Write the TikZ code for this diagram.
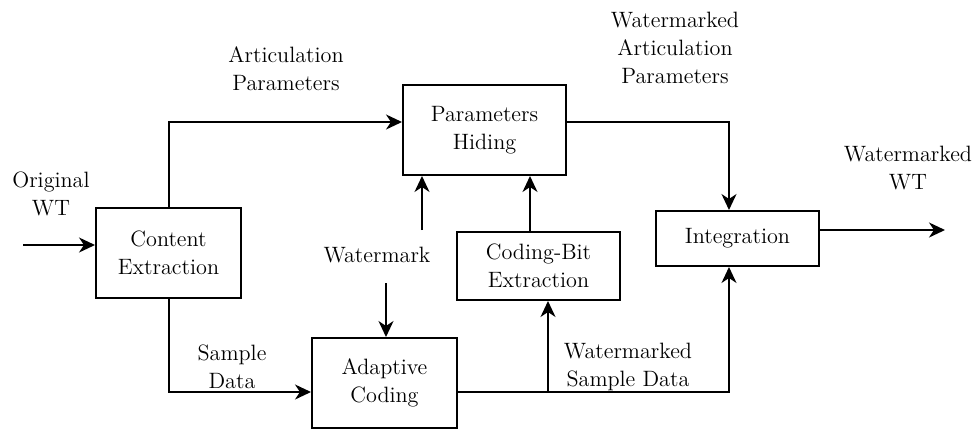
\documentclass[tikz,border=0pt]{standalone}
\usetikzlibrary{arrows.meta}
\begin{document}
\begin{tikzpicture}[x=0.5pt,y=-0.5pt,
  every node/.style={font=\rmfamily\fontsize{11.1}{14}\selectfont, align=center, inner sep=0pt},
  block/.style={draw, line width=1pt},
  arr/.style={line width=1pt, -{Stealth[length=8pt,width=7.5pt,inset=2.5pt]}}]
\useasboundingbox (0,0) rectangle (980,430);

% processing blocks
\node[block, minimum width=72.5pt, minimum height=45pt] (ce)  at (168.5,253) {Content\\Extraction};
\node[block, minimum width=81.5pt, minimum height=45pt] (ph)  at (484.5,130) {Parameters\\Hiding};
\node[block, minimum width=81.5pt, minimum height=34pt] (cbe) at (538.5,266) {Coding-Bit\\Extraction};
\node[block, minimum width=72.5pt, minimum height=45pt] (ac)  at (384.5,383) {Adaptive\\Coding};
\node[block, minimum width=81.5pt, minimum height=27.5pt] (int) at (737.5,238.5) {Integration};

% labels
\node (lorig) at (51,194) {Original\\WT};
\node (lart)  at (286,69) {Articulation\\Parameters};
\node (lwap)  at (675,48) {Watermarked\\Articulation\\Parameters};
\node (lwwt)  at (908,168) {Watermarked\\WT};
\node (lwm)   at (377,255) {Watermark};
\node (lsd)   at (232,367) {Sample\\Data};
\node (lwsd)  at (628,367) {Watermarked\\Sample Data};

% free ends
\coordinate (in)   at (23,245);
\coordinate (out)  at (945,230);
\coordinate (wmup) at (422,230);
\coordinate (wmdn) at (386,283);
\coordinate (br)   at (548,392);

% connectors
\draw[arr] (in) -- (in -| ce.west);
\draw[arr] (ce.north) |- ([yshift=4pt]ph.west);
\draw[arr] (ce.south) |- ([yshift=-4.5pt]ac.west);
\draw[arr] ([yshift=4pt]ph.east) -| ([xshift=-4.25pt]int.north);
\draw[arr] (wmup) -- (wmup |- ph.south);
\draw[arr] (wmdn) -- (wmdn |- ac.north);
\draw[arr] ([xshift=-4.25pt]cbe.north) -- ([xshift=-4.25pt]cbe.north |- ph.south);
\draw[arr] ([yshift=-4.5pt]ac.east) -| ([xshift=-4.25pt]int.south);
\draw[arr] (br) -- (br |- cbe.south);
\draw[arr] (int.east |- out) -- (out);
\end{tikzpicture}
\end{document}
